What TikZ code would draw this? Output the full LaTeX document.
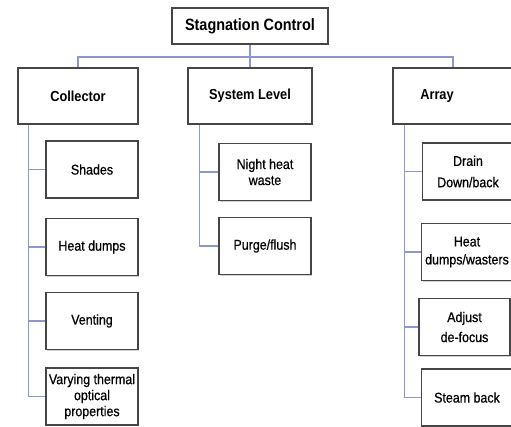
\documentclass[tikz,border=0pt]{standalone}
\usepackage{fontspec}
\setmainfont{Liberation Sans}
\newfontfamily\narrowfont{Liberation Sans}[FakeStretch=0.88]
\newfontfamily\leaffont{Liberation Sans}[FakeStretch=0.88, FakeBold=0.6]
\usetikzlibrary{shadows,backgrounds}
\definecolor{linkblue}{RGB}{140,152,205}
\definecolor{boxgray}{RGB}{70,70,70}
\tikzset{
  box/.style={draw=boxgray, line width=1.1pt, fill=white, inner sep=1pt, align=center,
    drop shadow={shadow xshift=0.8pt, shadow yshift=-0.8pt, opacity=0.35}},
  topbox/.style={box, minimum width=117pt, minimum height=27pt, font=\narrowfont\fontsize{12.3}{14}\selectfont\bfseries},
  levelbox/.style={box, minimum width=90pt, minimum height=42pt, font=\narrowfont\fontsize{10.9}{13}\selectfont\bfseries},
  leafbox/.style={box, minimum width=69pt, minimum height=43pt, font=\leaffont\fontsize{10.6}{12}\selectfont},
  link/.style={draw=linkblue, line width=0.9pt}
}

\begin{document}
\begin{tikzpicture}[x=0.75pt, y=-0.75pt]
	%%%%% START %%%%%
	\clip (0,0) rectangle (511,426);
	
	\node[topbox] (stag) at (250,26) {Stagnation Control};
	
	\node[levelbox] (collector) at (78,96) {Collector};
	\node[levelbox, minimum width=93pt] (system) at (250,96) {System Level};
	\node[levelbox] (array) at (453,96) {Array\hspace*{24pt}};
	
	\node[leafbox] (shades) at (92,169.5) {Shades};
	\node[leafbox] (heatdumps) at (92,247) {Heat dumps};
	\node[leafbox] (venting) at (92,321) {Venting};
	\node[leafbox] (varying) at (92,396.5) {Varying thermal\\optical\\properties};
	
	\node[leafbox] (night) at (265,172) {Night heat\\[0pt]waste};
	\node[leafbox] (purge) at (265,246) {Purge/flush};
	
	\node[leafbox, minimum width=68pt] (drain) at (468,171.5) {Drain\\[4pt]Down/back};
	\node[leafbox, minimum width=68pt] (heatwaste) at (467,252) {Heat\\[1.5pt]dumps/wasters};
	\node[leafbox, minimum width=68pt] (adjust) at (464.5,327) {Adjust\\[3pt]de-focus};
	\node[leafbox, minimum width=68pt] (steam) at (467,397.5) {Steam back};
	
	\begin{pgfonlayer}{background}
		\coordinate (bus) at (250,57);
		\draw[link] (stag.south) -- (bus);
		\draw[link] (collector.north) |- (bus) -| (array.north);
		\draw[link] (system.north) -- (system.north |- bus);
		
		\foreach \leaf in {shades,heatdumps,venting,varying}
			\draw[link] ([xshift=8.25pt]collector.south west) |- (\leaf.west);
		\foreach \leaf in {night,purge}
			\draw[link] ([xshift=9pt]system.south west) |- (\leaf.west);
		\foreach \leaf in {drain,heatwaste,adjust,steam}
			\draw[link] ([xshift=9pt]array.south west) |- (\leaf.west);
	\end{pgfonlayer}
	%%%%% END %%%%%
\end{tikzpicture}
\end{document}
